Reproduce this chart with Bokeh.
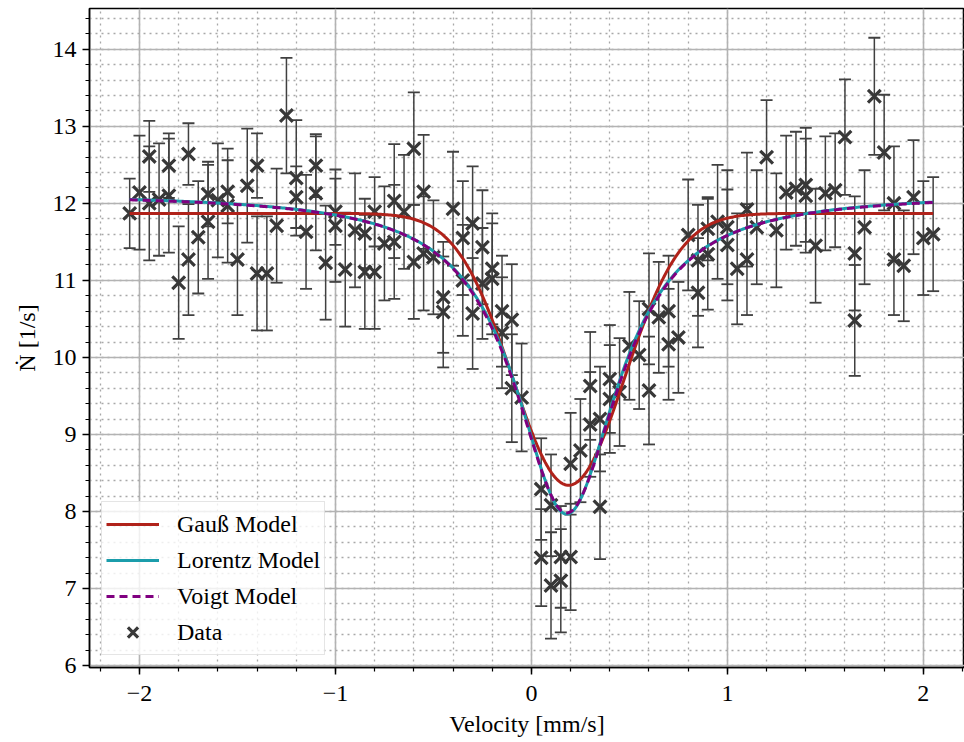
import numpy as np
from bokeh.plotting import figure
from bokeh.models import (ColumnDataSource, Whisker, TeeHead, Legend, LegendItem,
                          SingleIntervalTicker, Range1d)
from bokeh.embed import file_html
from bokeh.resources import INLINE

# ---------------- data ----------------
velocity = [
    -2.05, -2.00, -1.95, -1.95, -1.90, -1.85, -1.85, -1.80, -1.75, -1.75,
    -1.70, -1.65, -1.65, -1.60, -1.55, -1.55, -1.50, -1.45, -1.40, -1.40,
    -1.35, -1.30, -1.25, -1.20, -1.20, -1.15, -1.10, -1.10, -1.05, -1.00,
    -1.00, -0.95, -0.90, -0.85, -0.85, -0.80, -0.80, -0.75, -0.70, -0.70,
    -0.65, -0.60, -0.60, -0.55, -0.55, -0.50, -0.45, -0.45, -0.40, -0.35,
    -0.35, -0.30, -0.30, -0.25, -0.25, -0.20, -0.20, -0.15, -0.15, -0.10,
    -0.10, -0.05, 0.05, 0.05, 0.10, 0.10, 0.15, 0.15, 0.20, 0.20,
    0.25, 0.30, 0.30, 0.35, 0.35, 0.40, 0.40, 0.45, 0.50, 0.55,
    0.60, 0.60, 0.65, 0.70, 0.70, 0.75, 0.80, 0.85, 0.85, 0.90,
    0.90, 0.95, 1.00, 1.00, 1.05, 1.10, 1.10, 1.15, 1.20, 1.25,
    1.30, 1.35, 1.40, 1.40, 1.45, 1.50, 1.55, 1.60, 1.65, 1.65,
    1.70, 1.75, 1.80, 1.85, 1.85, 1.90, 1.95, 2.00, 2.05,
]
rate = [
    11.87, 12.14, 12.61, 12.00, 12.05, 12.49, 12.10, 10.97, 12.64, 11.27,
    11.56, 12.12, 11.76, 12.04, 12.15, 11.97, 11.27, 12.23, 12.49, 11.09,
    11.09, 11.71, 13.14, 12.33, 12.08, 11.63, 12.49, 12.13, 11.23, 11.89,
    11.71, 11.14, 11.65, 11.61, 11.11, 11.89, 11.11, 11.48, 12.03, 11.50,
    11.89, 12.71, 11.24, 12.15, 11.35, 11.30, 10.78, 10.59, 11.93, 11.55,
    11.00, 11.74, 10.57, 11.43, 10.96, 11.15, 11.02, 10.60, 10.32, 10.49,
    9.60, 9.48, 8.29, 7.40, 8.08, 7.04, 7.41, 7.10, 8.62, 7.41,
    8.79, 9.63, 9.13, 9.20, 8.06, 9.72, 9.46, 9.55, 10.15, 10.03,
    10.63, 9.57, 10.52, 10.60, 10.17, 10.26, 11.59, 11.26, 10.84, 11.67,
    11.34, 11.76, 11.69, 11.46, 11.15, 11.92, 11.27, 11.69, 12.60, 11.65,
    12.14, 12.19, 12.24, 12.10, 11.45, 12.13, 12.17, 12.86, 11.35, 10.48,
    11.69, 13.39, 12.66, 12.00, 11.27, 11.19, 12.08, 11.55, 11.60,
]
rate_err = [
    0.45, 0.74, 0.46, 0.74, 0.73, 0.42, 0.74, 0.73, 0.40, 0.72,
    0.73, 0.42, 0.74, 0.74, 0.41, 0.74, 0.72, 0.74, 0.42, 0.74,
    0.74, 0.74, 0.75, 0.75, 0.40, 0.74, 0.41, 0.74, 0.74, 0.43,
    0.73, 0.74, 0.74, 0.45, 0.74, 0.45, 0.74, 0.74, 0.74, 0.74,
    0.74, 0.73, 0.74, 0.74, 0.74, 0.74, 0.72, 0.72, 0.74, 0.74,
    0.72, 0.74, 0.72, 0.74, 0.72, 0.72, 0.72, 0.72, 0.72, 0.72,
    0.70, 0.70, 0.66, 0.63, 0.66, 0.69, 0.66, 0.67, 0.66, 0.69,
    0.67, 0.70, 0.68, 0.68, 0.68, 0.70, 0.70, 0.70, 0.70, 0.70,
    0.72, 0.70, 0.72, 0.72, 0.72, 0.72, 0.72, 0.72, 0.71, 0.41,
    0.72, 0.74, 0.74, 0.72, 0.72, 0.74, 0.72, 0.74, 0.74, 0.74,
    0.74, 0.74, 0.74, 0.74, 0.74, 0.74, 0.74, 0.75, 0.74, 0.72,
    0.74, 0.76, 0.75, 0.74, 0.72, 0.72, 0.74, 0.74, 0.74,
]

# fitted model parameters (offset, depth, centre, width)
gauss_params = dict(offset=11.87, depth=3.53, center=0.19, sigma=0.285)
lorentz_params = dict(offset=12.135, depth=4.17, center=0.18, gamma=0.32)
voigt_params = dict(offset=12.13, depth=4.15, center=0.18, gamma=0.31, sigma=0.06)

x_ticks_labels = {-2: "\u22122", -1: "\u22121", 0: "0", 1: "1", 2: "2"}

# ---------------- model curves ----------------
xm = np.linspace(-2.05, 2.05, 500)


def gauss(x, offset, depth, center, sigma):
    return offset - depth * np.exp(-(x - center) ** 2 / (2 * sigma ** 2))


def lorentz(x, offset, depth, center, gamma):
    return offset - depth * gamma ** 2 / ((x - center) ** 2 + gamma ** 2)


def pseudo_voigt(x, offset, depth, center, gamma, sigma):
    fg = 2.3548 * sigma
    fl = 2 * gamma
    f = (fg ** 5 + 2.69269 * fg ** 4 * fl + 2.42843 * fg ** 3 * fl ** 2
         + 4.47163 * fg ** 2 * fl ** 3 + 0.07842 * fg * fl ** 4 + fl ** 5) ** 0.2
    eta = 1.36603 * (fl / f) - 0.47719 * (fl / f) ** 2 + 0.11116 * (fl / f) ** 3
    g = f / 2
    L = g ** 2 / ((x - center) ** 2 + g ** 2)
    s = f / 2.3548
    G = np.exp(-(x - center) ** 2 / (2 * s ** 2))
    return offset - depth * (eta * L + (1 - eta) * G)


yg = gauss(xm, **gauss_params)
yl = lorentz(xm, **lorentz_params)
yv = pseudo_voigt(xm, **voigt_params)

FONT = "Liberation Serif"

p = figure(width=964, height=742, output_backend="svg", toolbar_location=None,
           x_range=Range1d(-2.255, 2.21), y_range=Range1d(5.974, 14.53),
           min_border_left=89, min_border_right=0, min_border_top=8,
           min_border_bottom=75)
p.background_fill_color = "white"
p.border_fill_color = "white"
p.outline_line_color = "black"
p.outline_line_width = 1.5

# grids
for g in (p.xgrid, p.ygrid):
    g.grid_line_color = "#b3b3b3"
    g.grid_line_width = 1.6
    g.minor_grid_line_color = "#a8a8a8"
    g.minor_grid_line_width = 1.3
    g.minor_grid_line_dash = "2 4"

p.xaxis.ticker = SingleIntervalTicker(interval=1, num_minor_ticks=5)
p.yaxis.ticker = SingleIntervalTicker(interval=1, num_minor_ticks=5)
p.xaxis.major_label_overrides = x_ticks_labels

for ax in (p.xaxis, p.yaxis):
    ax.axis_line_color = "black"
    ax.axis_line_width = 1.5
    ax.major_tick_line_color = "black"
    ax.major_tick_line_width = 1.5
    ax.minor_tick_line_color = "black"
    ax.minor_tick_line_width = 1.2
    ax.major_tick_in = 0
    ax.major_tick_out = 7
    ax.minor_tick_in = 0
    ax.minor_tick_out = 4
    ax.major_label_text_font = FONT
    ax.major_label_text_font_size = "24px"
    ax.major_label_text_color = "black"
    ax.axis_label_text_font = FONT
    ax.axis_label_text_font_size = "24px"
    ax.axis_label_text_font_style = "normal"
    ax.axis_label_text_color = "black"

p.xaxis.axis_label = "Velocity [mm/s]"
p.yaxis.axis_label = "\u1E44 [1/s]"
p.xaxis.major_label_standoff = 11
p.yaxis.major_label_standoff = 6
p.xaxis.axis_label_standoff = 7
p.yaxis.axis_label_standoff = 10

# data with error bars
src = ColumnDataSource(dict(
    x=velocity, y=rate,
    upper=[r + e for r, e in zip(rate, rate_err)],
    lower=[r - e for r, e in zip(rate, rate_err)],
))
err_color = "#404040"
wh = Whisker(source=src, base="x", upper="upper", lower="lower",
             line_color=err_color, line_width=1.5,
             upper_head=TeeHead(size=12, line_color=err_color, line_width=1.8),
             lower_head=TeeHead(size=12, line_color=err_color, line_width=1.8))
p.add_layout(wh)
data_r = p.scatter("x", "y", source=src, marker="x", size=18, line_width=3.2,
                   line_color="#383838")

g_r = p.line(xm, yg, line_color="#b0221a", line_width=3)
l_r = p.line(xm, yl, line_color="#1b9dab", line_width=3)
v_r = p.line(xm, yv, line_color="#800080", line_width=3, line_dash="8 5")

legend = Legend(items=[
    LegendItem(label="Gau\u00df Model", renderers=[g_r]),
    LegendItem(label="Lorentz Model", renderers=[l_r]),
    LegendItem(label="Voigt Model", renderers=[v_r]),
    LegendItem(label="Data", renderers=[data_r]),
], location="bottom_left")
legend.margin = 12
legend.padding = 4
legend.spacing = 0
legend.glyph_width = 53
legend.glyph_height = 36
legend.label_height = 36
legend.label_standoff = 18
legend.label_text_font = FONT
legend.label_text_font_size = "24px"
legend.label_text_color = "black"
legend.background_fill_color = "white"
legend.background_fill_alpha = 0.8
legend.border_line_color = "#cccccc"
legend.border_line_width = 1.5
p.add_layout(legend)

open("out.html", "w").write(file_html(p, INLINE))
